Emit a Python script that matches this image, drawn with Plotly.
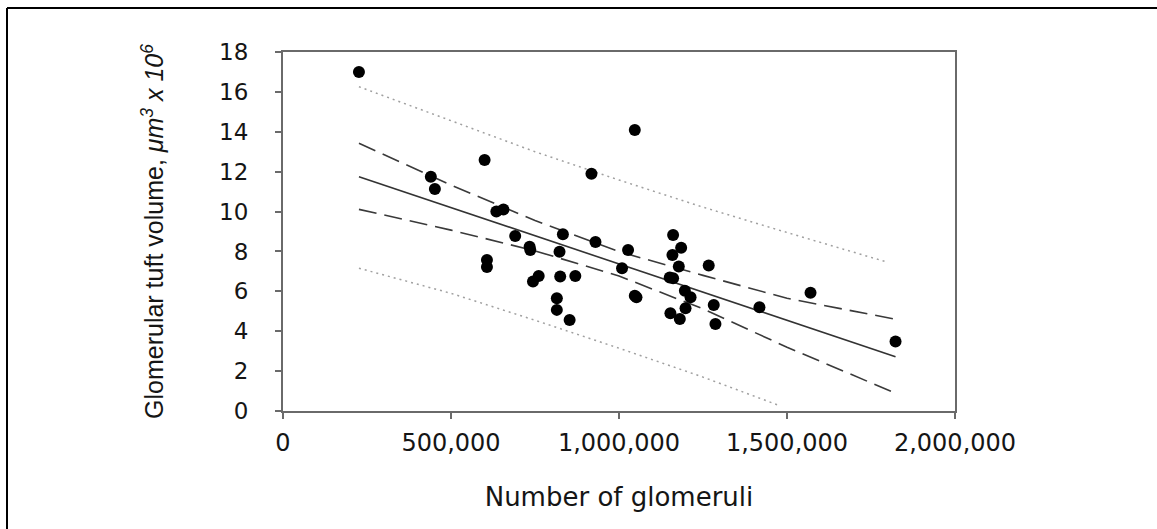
import plotly.graph_objects as go

# Data points
glomeruli = [226000, 440000, 452000, 600000, 607000, 607000, 635000, 656000, 691000,
             734000, 736000, 744000, 761000, 815000, 815000, 823000, 825000, 833000,
             853000, 870000, 918000, 930000, 1009000, 1027000, 1047000, 1047000, 1052000,
             1151000, 1153000, 1159000, 1161000, 1161000, 1178000, 1181000, 1185000,
             1196000, 1198000, 1213000, 1267000, 1282000, 1287000, 1418000, 1570000, 1823000]
tuft_volume = [17.0, 11.75, 11.13, 12.59, 7.57, 7.22, 10.0, 10.1, 8.78,
               8.24, 8.07, 6.49, 6.77, 5.65, 5.07, 7.99, 6.74, 8.86,
               4.56, 6.77, 11.89, 8.47, 7.16, 8.07, 14.09, 5.78, 5.70,
               6.69, 4.90, 7.82, 6.66, 8.83, 7.24, 4.61, 8.19,
               6.03, 5.15, 5.70, 7.29, 5.32, 4.36, 5.20, 5.93, 3.48]

# Regression line and bands
fit_x = [226000, 1823000]
fit_y = [11.75, 2.72]

ci_x = [226000, 500000, 750000, 1000000, 1250000, 1500000, 1823000]
ci_upper = [13.42, 11.33, 9.55, 7.99, 6.80, 5.65, 4.60]
ci_lower = [10.11, 9.07, 8.03, 6.77, 5.12, 3.20, 0.89]

pi_upper_x = [226000, 500000, 750000, 1000000, 1250000, 1500000, 1799000]
pi_upper = [16.26, 14.55, 13.0, 11.58, 10.22, 8.95, 7.46]
pi_lower_x = [226000, 500000, 750000, 1000000, 1250000, 1481000]
pi_lower = [7.16, 5.9, 4.55, 3.15, 1.7, 0.25]

x_ticks = [0, 500000, 1000000, 1500000, 2000000]
x_tick_labels = ["0", "500,000", "1,000,000", "1,500,000", "2,000,000"]
y_ticks = [0, 2, 4, 6, 8, 10, 12, 14, 16, 18]

fig = go.Figure()

fig.add_trace(go.Scatter(x=pi_upper_x, y=pi_upper, mode="lines",
                         line=dict(color="#a0a0a0", width=1.5, dash="2px,4px")))
fig.add_trace(go.Scatter(x=pi_lower_x, y=pi_lower, mode="lines",
                         line=dict(color="#a0a0a0", width=1.5, dash="2px,4px")))
fig.add_trace(go.Scatter(x=ci_x, y=ci_upper, mode="lines",
                         line=dict(color="#3a3a3a", width=1.6, dash="18px,8px")))
fig.add_trace(go.Scatter(x=ci_x, y=ci_lower, mode="lines",
                         line=dict(color="#3a3a3a", width=1.6, dash="18px,8px")))
fig.add_trace(go.Scatter(x=fit_x, y=fit_y, mode="lines",
                         line=dict(color="#333333", width=1.6)))
fig.add_trace(go.Scatter(x=glomeruli, y=tuft_volume, mode="markers",
                         marker=dict(color="black", size=12, line=dict(width=0))))

fig.update_layout(
    width=1157, height=529,
    margin=dict(l=283, r=202, t=52, b=118),
    paper_bgcolor="white", plot_bgcolor="white",
    showlegend=False,
    font=dict(family="DejaVu Sans", color="#151515"),
)

fig.update_xaxes(
    range=[0, 2000000], tickvals=x_ticks, ticktext=x_tick_labels,
    showgrid=False, zeroline=False,
    showline=True, linecolor="#6a6a6a", linewidth=2, mirror=True,
    ticks="outside", ticklen=6, tickcolor="#6a6a6a", tickwidth=2,
    tickfont=dict(family="DejaVu Sans", size=24, color="#151515"),
    ticklabelstandoff=3,
    title=dict(text="Number of glomeruli", standoff=32,
               font=dict(family="DejaVu Sans", size=26, color="#151515")),
)
fig.update_yaxes(
    range=[0, 18], tickvals=y_ticks,
    showgrid=False, zeroline=False,
    showline=True, linecolor="#6a6a6a", linewidth=2, mirror=True,
    ticks="outside", ticklen=6, tickcolor="#6a6a6a", tickwidth=2,
    tickfont=dict(family="DejaVu Sans", size=23, color="#151515"),
    ticklabelstandoff=22,
    title=dict(text="Glomerular tuft volume, <i>μm<sup>3</sup> x 10<sup>6</sup></i>",
               standoff=48,
               font=dict(family="Liberation Sans", size=25, color="#151515")),
)

# Outer page frame (scanned figure border)
fig.add_shape(type="line", xref="paper", yref="paper",
              x0=(7 - 283) / 672, x1=(1170 - 283) / 672,
              y0=(411 - 8) / 359, y1=(411 - 8) / 359,
              line=dict(color="black", width=2))
fig.add_shape(type="line", xref="paper", yref="paper",
              x0=(7 - 283) / 672, x1=(7 - 283) / 672,
              y0=(411 - 8) / 359, y1=(411 - 545) / 359,
              line=dict(color="black", width=2))

fig.write_html("out.html",
               config={"displayModeBar": False},
               post_script="document.body.style.margin='0px';document.body.style.overflow='hidden';")
